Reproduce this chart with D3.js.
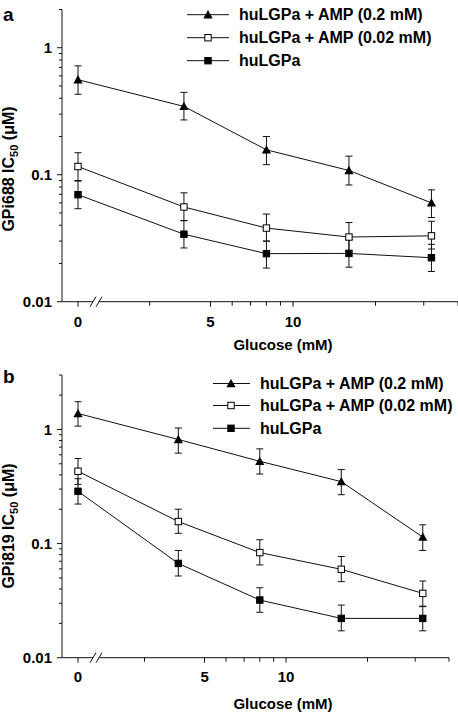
<!DOCTYPE html>
<html>
<head>
<meta charset="utf-8">
<script src="https://cdn.jsdelivr.net/npm/d3@7"></script>
<style>
  html, body { margin: 0; padding: 0; background: #fff; }
  svg { display: block; font-family: "Liberation Sans", Arial, Helvetica, sans-serif; font-weight: bold; }
</style>
</head>
<body>
<svg id="chart" width="458" height="716"></svg>
<script>
// ---------------- DATA ----------------
const glucose = [0, 4, 8, 16, 32];
const seriesNames = ["huLGPa + AMP (0.2 mM)", "huLGPa + AMP (0.02 mM)", "huLGPa"];
const markerTypes = ["triangle", "openSquare", "filledSquare"];

// Panel a : GPi688
const a_amp02     = [0.56, 0.345, 0.157, 0.108, 0.060];
const a_amp02_lo  = [0.43, 0.27, 0.12, 0.083, 0.046];
const a_amp02_hi  = [0.72, 0.445, 0.20, 0.14, 0.076];
const a_amp002    = [0.116, 0.0557, 0.038, 0.0323, 0.033];
const a_amp002_lo = [0.09, 0.0435, 0.030, 0.025, 0.026];
const a_amp002_hi = [0.149, 0.072, 0.049, 0.042, 0.043];
const a_base      = [0.0696, 0.034, 0.0239, 0.024, 0.0222];
const a_base_lo   = [0.054, 0.0265, 0.0184, 0.0187, 0.0173];
const a_base_hi   = [0.089, 0.0435, 0.030, 0.031, 0.0283];

// Panel b : GPi819
const b_amp02     = [1.38, 0.817, 0.526, 0.349, 0.114];
const b_amp02_lo  = [1.07, 0.62, 0.407, 0.268, 0.087];
const b_amp02_hi  = [1.75, 1.03, 0.676, 0.445, 0.146];
const b_amp002    = [0.43, 0.156, 0.0834, 0.0595, 0.0366];
const b_amp002_lo = [0.33, 0.123, 0.065, 0.0464, 0.028];
const b_amp002_hi = [0.556, 0.2, 0.108, 0.077, 0.047];
const b_base      = [0.287, 0.067, 0.032, 0.0221, 0.0221];
const b_base_lo   = [0.222, 0.052, 0.025, 0.0172, 0.0172];
const b_base_hi   = [0.37, 0.087, 0.041, 0.0289, 0.0283];

// Axis ticks
const xMinorTicks = [3, 5, 6, 7, 8, 9, 10, 20, 30, 40];
const xTickLabels = ["0", "5", "10"];
const xLabelValues = [0, 5, 10];
const yTickLabels = ["0.01", "0.1", "1"];
const yLabelValues = [0.01, 0.1, 1];
const xTitle = "Glucose (mM)";

// ---------------- LAYOUT ----------------
const panels = [
  {
    letter: "a", compound: "GPi688",
    series: [[a_amp02, a_amp02_lo, a_amp02_hi], [a_amp002, a_amp002_lo, a_amp002_hi], [a_base, a_base_lo, a_base_hi]],
    xDomain: [1.436, 40], xRange: [62, 458],
    yDomain: [0.01, 2], yRange: [301.7, 9.5], yMax: 2,
    legend: { x0: 187, x1: 229, xm: 208, tx: 239, ys: [14.7, 37.7, 60.7] },
    letterPos: [3, 21], titleY: 169, tickLabelY: 327, xTitleX: 283, xTitleY: 349.5
  },
  {
    letter: "b", compound: "GPi819",
    series: [[b_amp02, b_amp02_lo, b_amp02_hi], [b_amp002, b_amp002_lo, b_amp002_hi], [b_base, b_base_lo, b_base_hi]],
    xDomain: [1.487, 40], xRange: [62, 449],
    yDomain: [0.01, 3], yRange: [657.7, 375], yMax: 3,
    legend: { x0: 213, x1: 250, xm: 231, tx: 260, ys: [383.5, 405.5, 428.3] },
    letterPos: [3, 383], titleY: 526, tickLabelY: 682, xTitleX: 283, xTitleY: 709
  }
];
const zeroOffset = 16;
const ink = "#111";

const svg = d3.select("#chart");

function drawMarker(g, type, cx, cy) {
  if (type === "triangle") {
    const s = 4.6;
    g.append("path")
      .attr("d", `M${cx},${cy - s}L${cx + s},${cy + s * 0.8}L${cx - s},${cy + s * 0.8}Z`)
      .attr("fill", "#000");
  } else {
    const h = 3.2;
    g.append("rect")
      .attr("x", cx - h).attr("y", cy - h)
      .attr("width", 2 * h).attr("height", 2 * h)
      .attr("fill", type === "openSquare" ? "#fff" : "#000")
      .attr("stroke", "#000").attr("stroke-width", 1);
  }
}

panels.forEach(p => {
  const xs = d3.scaleLog().domain(p.xDomain).range(p.xRange);
  const x = v => v === 0 ? p.xRange[0] + zeroOffset : xs(v);
  const y = d3.scaleLog().domain(p.yDomain).range(p.yRange);
  const g = svg.append("g");
  const axisY = p.yRange[0];

  // Y axis line
  g.append("line").attr("x1", p.xRange[0]).attr("x2", p.xRange[0])
    .attr("y1", y(p.yDomain[0])).attr("y2", y(p.yDomain[1]))
    .attr("stroke", ink).attr("stroke-width", 1);
  // Y ticks
  const yTicks = [];
  for (let dec = 0.01; dec < 10; dec *= 10) {
    for (let m = 1; m <= 9; m++) {
      const v = +(m * dec).toPrecision(3);
      if (v >= p.yDomain[0] && v <= p.yMax + 1e-9) yTicks.push({ v, major: m === 1 });
    }
  }
  g.selectAll(null).data(yTicks).enter().append("line")
    .attr("x1", d => p.xRange[0] - (d.major ? 5 : 3)).attr("x2", p.xRange[0])
    .attr("y1", d => y(d.v)).attr("y2", d => y(d.v))
    .attr("stroke", ink).attr("stroke-width", 1);
  g.selectAll(null).data(yLabelValues).enter().append("text")
    .attr("x", p.xRange[0] - 10).attr("y", d => y(d) + 5.3)
    .attr("text-anchor", "end").attr("font-size", 15)
    .text((d, i) => yTickLabels[i]);

  // X axis line with break
  const zx = x(0);
  const br1 = zx + 15, br2 = zx + 21;
  g.append("line").attr("x1", p.xRange[0]).attr("x2", br1).attr("y1", axisY).attr("y2", axisY)
    .attr("stroke", ink).attr("stroke-width", 1);
  g.append("line").attr("x1", br2).attr("x2", p.xRange[1]).attr("y1", axisY).attr("y2", axisY)
    .attr("stroke", ink).attr("stroke-width", 1);
  [br1, br2].forEach(bx => {
    g.append("line").attr("x1", bx - 3).attr("y1", axisY + 5).attr("x2", bx + 3).attr("y2", axisY - 5)
      .attr("stroke", ink).attr("stroke-width", 1);
  });
  // X ticks
  g.append("line").attr("x1", zx).attr("x2", zx).attr("y1", axisY).attr("y2", axisY + 5)
    .attr("stroke", ink).attr("stroke-width", 1);
  g.selectAll(null).data(xMinorTicks).enter().append("line")
    .attr("x1", d => xs(d)).attr("x2", d => xs(d))
    .attr("y1", axisY).attr("y2", d => axisY + (d === 5 || d === 10 ? 5 : 4))
    .attr("stroke", ink).attr("stroke-width", 1);
  g.selectAll(null).data(xLabelValues).enter().append("text")
    .attr("x", d => x(d)).attr("y", p.tickLabelY)
    .attr("text-anchor", "middle").attr("font-size", 15)
    .text((d, i) => xTickLabels[i]);
  g.append("text").attr("x", p.xTitleX).attr("y", p.xTitleY)
    .attr("text-anchor", "middle").attr("font-size", 15).text(xTitle);

  // Y title
  const yt = g.append("text")
    .attr("transform", `translate(14,${p.titleY}) rotate(-90)`)
    .attr("text-anchor", "middle").attr("font-size", 16);
  yt.append("tspan").text(p.compound + " IC");
  yt.append("tspan").attr("font-size", 11).attr("dy", 3.5).text("50");
  yt.append("tspan").attr("dy", -3.5).text(" (\u03bcM)");

  // Panel letter
  g.append("text").attr("x", p.letterPos[0]).attr("y", p.letterPos[1])
    .attr("font-size", 19).text(p.letter);

  // Series
  const line = d3.line().x((d, i) => x(glucose[i])).y(d => y(d));
  p.series.forEach(([vals, lo, hi]) => {
    g.append("path").datum(vals).attr("d", line)
      .attr("fill", "none").attr("stroke", ink).attr("stroke-width", 1);
  });
  p.series.forEach(([vals, lo, hi]) => {
    glucose.forEach((gx, i) => {
      const cx = x(gx);
      g.append("line").attr("x1", cx).attr("x2", cx).attr("y1", y(lo[i])).attr("y2", y(hi[i]))
        .attr("stroke", ink).attr("stroke-width", 1);
      [lo[i], hi[i]].forEach(v => {
        g.append("line").attr("x1", cx - 3.5).attr("x2", cx + 3.5).attr("y1", y(v)).attr("y2", y(v))
          .attr("stroke", ink).attr("stroke-width", 1);
      });
    });
  });
  p.series.forEach(([vals], si) => {
    vals.forEach((v, i) => drawMarker(g, markerTypes[si], x(glucose[i]), y(v)));
  });

  // Legend
  seriesNames.forEach((name, si) => {
    const ly = p.legend.ys[si];
    g.append("line").attr("x1", p.legend.x0).attr("x2", p.legend.x1).attr("y1", ly).attr("y2", ly)
      .attr("stroke", ink).attr("stroke-width", 1);
    drawMarker(g, markerTypes[si], p.legend.xm, ly);
    g.append("text").attr("x", p.legend.tx).attr("y", ly + 5.6)
      .attr("font-size", 16).text(name);
  });
});
</script>
</body>
</html>
